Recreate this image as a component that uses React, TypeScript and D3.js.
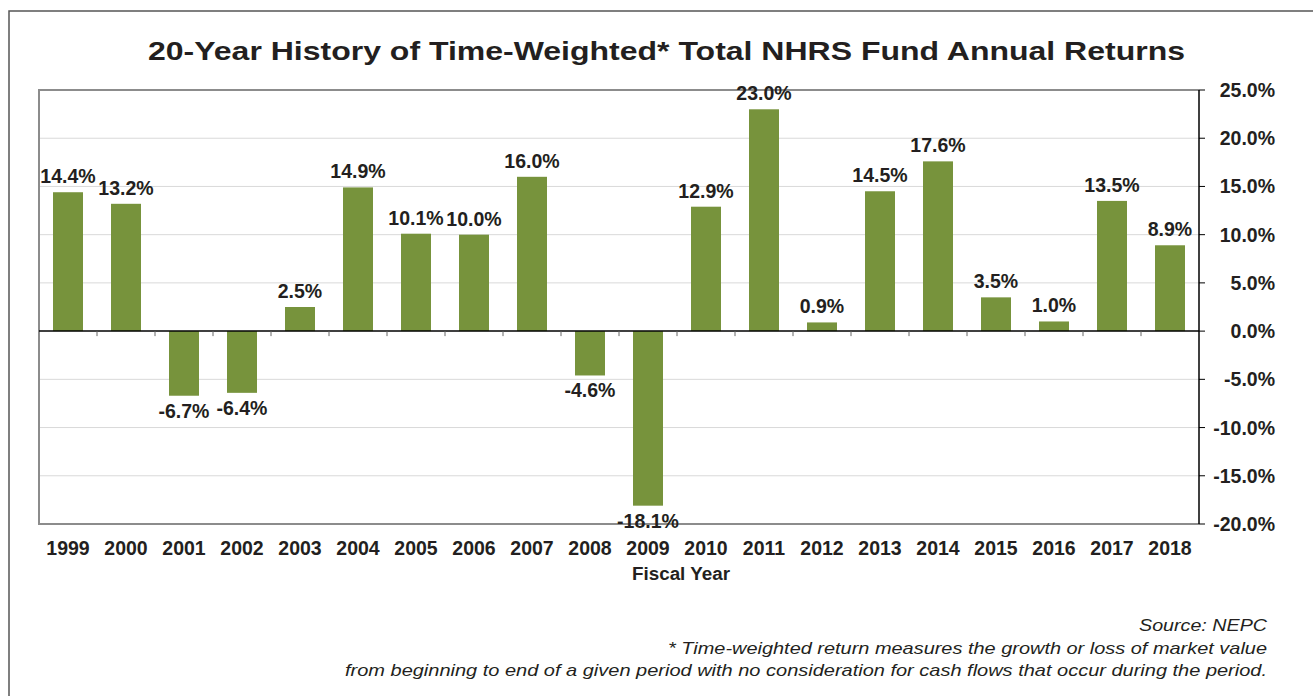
import * as d3 from 'd3';

const years = ['1999', '2000', '2001', '2002', '2003', '2004', '2005', '2006', '2007', '2008',
  '2009', '2010', '2011', '2012', '2013', '2014', '2015', '2016', '2017', '2018'];
const returns = [14.4, 13.2, -6.7, -6.4, 2.5, 14.9, 10.1, 10.0, 16.0, -4.6,
  -18.1, 12.9, 23.0, 0.9, 14.5, 17.6, 3.5, 1.0, 13.5, 8.9];
const yTicks = [25, 20, 15, 10, 5, 0, -5, -10, -15, -20];

const title = '20-Year History of Time-Weighted* Total NHRS Fund Annual Returns';
const notes = [
  'Source: NEPC',
  '* Time-weighted return measures the growth or loss of market value',
  'from beginning to end of a given period with no consideration for cash flows that occur during the period.'
];
// rendered widths of the footnote lines in the original (its font runs wider)
const noteWidths = [128, 599, 922];

const W = 1313;
const H = 696;
const plot = { left: 39, right: 1199, top: 90, bottom: 524 };
const font = '"Liberation Sans", Arial, Helvetica, sans-serif';
const ink = '#231f20';
const barColor = '#77933c';

export default function App() {
  const x = d3.scaleBand()
    .domain(years)
    .range([plot.left, plot.right])
    .paddingInner(0.483)
    .paddingOuter(0.2415);
  const y = d3.scaleLinear().domain([-20, 25]).range([plot.bottom, plot.top]);
  const step = x.step();
  const gap = (step - x.bandwidth()) / 2;
  const fmt = (v) => `${v.toFixed(1)}%`;

  return (
    <svg width={W} height={H} style={{ position: 'absolute', left: 0, top: 0 }} fontFamily={font}>
      <rect width={W} height={H} fill="#fff" />
      {/* outer frame */}
      <path d={`M9,${H + 5}V11H${W + 5}`} fill="none" stroke="#555" strokeWidth={1.5} />

      <text x={148} y={60} fontSize={26} fontWeight="bold" fill={ink}
        textLength={1037} lengthAdjust="spacingAndGlyphs">
        {title}
      </text>

      {/* gridlines */}
      {yTicks.filter((t) => t !== 0 && t !== 25 && t !== -20).map((t) => (
        <line key={t} x1={plot.left} x2={plot.right} y1={y(t)} y2={y(t)} stroke="#d9d9d9" strokeWidth={1} />
      ))}

      {/* bars */}
      {years.map((yr, i) => {
        const v = returns[i];
        return (
          <rect key={yr} x={x(yr)} width={x.bandwidth()}
            y={Math.min(y(v), y(0))} height={Math.abs(y(v) - y(0))} fill={barColor} />
        );
      })}

      {/* plot frame */}
      <path d={`M${plot.right},${plot.top}H${plot.left}V${plot.bottom}H${plot.right}`}
        fill="none" stroke="#8c8c8c" strokeWidth={2} />
      <line x1={plot.right} x2={plot.right} y1={plot.top} y2={plot.bottom} stroke="#000" strokeWidth={1.5} />

      {/* zero line with category ticks */}
      <line x1={plot.left} x2={plot.right} y1={y(0)} y2={y(0)} stroke="#000" strokeWidth={1.5} />
      {years.slice(1).map((yr) => (
        <line key={yr} x1={x(yr) - gap} x2={x(yr) - gap}
          y1={y(0)} y2={y(0) + 5} stroke="#666" strokeWidth={1} />
      ))}

      {/* right axis */}
      {yTicks.map((t) => (
        <g key={t}>
          <line x1={plot.right} x2={plot.right + 6} y1={y(t)} y2={y(t)} stroke="#000" strokeWidth={1} />
          <text x={1275} y={y(t) + 7} textAnchor="end" fontSize={19.5} fontWeight="bold" fill={ink}>
            {fmt(t)}
          </text>
        </g>
      ))}

      {/* value labels */}
      {years.map((yr, i) => {
        const v = returns[i];
        const cx = x(yr) + x.bandwidth() / 2;
        return (
          <text key={yr} x={cx} y={v >= 0 ? y(v) - 9 : y(v) + 22} textAnchor="middle"
            fontSize={19.5} fontWeight="bold" fill={ink}>
            {fmt(v)}
          </text>
        );
      })}

      {/* category labels */}
      {years.map((yr) => (
        <text key={yr} x={x(yr) + x.bandwidth() / 2} y={555} textAnchor="middle"
          fontSize={19.5} fontWeight="bold" fill={ink}>
          {yr}
        </text>
      ))}
      <text x={632} y={580} fontSize={17.5} fontWeight="bold" fill={ink}
        textLength={98} lengthAdjust="spacingAndGlyphs">Fiscal Year</text>

      {notes.map((n, i) => (
        <text key={i} x={1267 - noteWidths[i]} y={631 + i * 22.5} fontSize={17} fontStyle="italic" fill={ink}
          textLength={noteWidths[i]} lengthAdjust="spacingAndGlyphs">
          {n}
        </text>
      ))}
    </svg>
  );
}
